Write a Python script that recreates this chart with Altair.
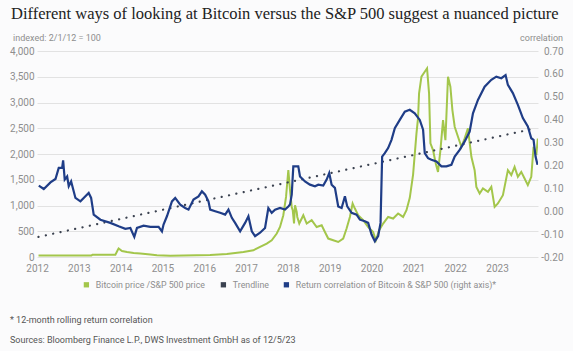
import altair as alt
import pandas as pd

TITLE = "Different ways of looking at Bitcoin versus the S&P 500 suggest a nuanced picture"
LEFT_TITLE = "indexed: 2/1/12 = 100"
RIGHT_TITLE = "correlation"
NOTE = "* 12-month rolling return correlation"
SOURCE = "Sources: Bloomberg Finance L.P., DWS Investment GmbH as of 12/5/23"

series = ["Bitcoin price /S&P 500 price", "Trendline",
          "Return correlation of Bitcoin & S&P 500 (right axis)*"]
colors = ["#a3c64b", "#3b4250", "#1f3d87"]

years = list(range(2012, 2024))
left_ticks = list(range(0, 4001, 500))
right_ticks = [-0.2, -0.1, 0.0, 0.1, 0.2, 0.3, 0.4, 0.5, 0.6, 0.7]

# Bitcoin price / S&P 500 price (indexed), decimal years
btc_t = [2012.036, 2013.301, 2013.325, 2013.874, 2013.928, 2013.952, 2014.033, 2014.153,
         2014.310, 2014.470, 2014.709, 2014.869, 2015.186, 2016.141, 2016.539, 2016.936,
         2017.174, 2017.334, 2017.494, 2017.613, 2017.733, 2017.811, 2017.890, 2017.955,
         2018.010, 2018.050, 2018.091, 2018.115, 2018.146, 2018.170, 2018.210, 2018.224,
         2018.272, 2018.368, 2018.449, 2018.568, 2018.687, 2018.807, 2018.885, 2018.964,
         2019.084, 2019.203, 2019.322, 2019.403, 2019.482, 2019.547, 2019.601, 2019.680,
         2019.800, 2019.919, 2020.038, 2020.103, 2020.181, 2020.277, 2020.396, 2020.516,
         2020.635, 2020.754, 2020.835, 2020.914, 2020.993, 2021.074, 2021.112, 2021.136,
         2021.193, 2021.272, 2021.327, 2021.375, 2021.408, 2021.470, 2021.535, 2021.589,
         2021.647, 2021.709, 2021.766, 2021.828, 2021.885, 2021.933, 2021.988, 2022.067,
         2022.148, 2022.227, 2022.305, 2022.387, 2022.465, 2022.506, 2022.585, 2022.663,
         2022.783, 2022.864, 2022.943, 2023.021, 2023.141, 2023.260, 2023.341, 2023.420,
         2023.499, 2023.580, 2023.659, 2023.737, 2023.819, 2023.874, 2023.938, 2023.976]
btc_v = [30, 30, 45, 45, 130, 165, 117, 97,
         78, 66, 47, 35, 25, 40, 60, 95,
         130, 195, 260, 325, 455, 583, 811, 1167,
         1686, 1300, 972, 908, 650, 1005, 875, 778,
         650, 811, 650, 714, 583, 617, 486, 358,
         325, 292, 358, 552, 778, 1039, 941, 811,
         714, 583, 486, 325, 519, 650, 778, 747,
         844, 778, 908, 1150, 1600, 2400, 2700, 3178,
         3501, 3598, 3664, 3178, 2206, 2075, 1817, 1653,
         2075, 2659, 2270, 3501, 3307, 2853, 2529, 2334,
         2140, 2303, 2497, 1945, 1686, 1362, 1233, 1330,
         1264, 1362, 972, 1039, 1200, 1686, 1589, 1750,
         1556, 1653, 1525, 1395, 1556, 2140, 1978, 2300]

# 12-month rolling return correlation (right axis)
corr_t = [2012.043, 2012.162, 2012.322, 2012.442, 2012.520, 2012.601, 2012.625, 2012.663,
          2012.721, 2012.759, 2012.816, 2012.919, 2013.038, 2013.117, 2013.236, 2013.294,
          2013.356, 2013.516, 2013.754, 2013.952, 2014.112, 2014.232, 2014.327, 2014.391,
          2014.549, 2014.709, 2014.907, 2014.988, 2015.026, 2015.107, 2015.227, 2015.305,
          2015.425, 2015.544, 2015.623, 2015.742, 2015.862, 2015.943, 2016.021, 2016.100,
          2016.141, 2016.260, 2016.379, 2016.499, 2016.578, 2016.659, 2016.737, 2016.857,
          2016.976, 2017.055, 2017.136, 2017.215, 2017.334, 2017.453, 2017.532, 2017.613,
          2017.692, 2017.811, 2017.931, 2018.010, 2018.050, 2018.091, 2018.129, 2018.170,
          2018.248, 2018.289, 2018.408, 2018.527, 2018.647, 2018.726, 2018.845, 2018.926,
          2018.988, 2019.045, 2019.124, 2019.203, 2019.284, 2019.363, 2019.418, 2019.523,
          2019.642, 2019.721, 2019.840, 2019.919, 2020.000, 2020.079, 2020.158, 2020.215,
          2020.253, 2020.317, 2020.396, 2020.477, 2020.556, 2020.675, 2020.795, 2020.914,
          2021.033, 2021.153, 2021.232, 2021.272, 2021.351, 2021.432, 2021.551, 2021.671,
          2021.790, 2021.909, 2021.988, 2022.107, 2022.227, 2022.346, 2022.425, 2022.544,
          2022.704, 2022.864, 2022.983, 2023.103, 2023.205, 2023.260, 2023.379, 2023.499,
          2023.618, 2023.737, 2023.819, 2023.874, 2023.921, 2023.969]
corr_v = [0.112, 0.097, 0.126, 0.141, 0.189, 0.189, 0.222, 0.138,
          0.152, 0.109, 0.130, 0.058, 0.043, 0.058, 0.080, 0.058,
          -0.015, -0.037, -0.051, -0.066, -0.077, -0.073, -0.112, -0.073,
          -0.063, -0.068, -0.068, -0.088, -0.058, -0.022, 0.043, 0.058,
          0.029, 0.014, 0.007, 0.051, 0.065, 0.087, 0.072, 0.043,
          0.007, 0.000, -0.007, -0.015, 0.007, -0.029, -0.051, -0.088,
          -0.051, -0.022, -0.088, -0.109, -0.094, -0.073, 0.014, -0.007,
          0.007, 0.014, 0.007, 0.021, 0.029, 0.072, 0.196, 0.196,
          0.196, 0.152, 0.130, 0.116, 0.109, 0.116, 0.112, 0.138,
          0.167, 0.116, 0.102, 0.021, 0.014, 0.065, 0.021, -0.007,
          -0.015, -0.037, -0.044, -0.051, -0.102, -0.131, -0.109, -0.051,
          0.239, 0.254, 0.276, 0.312, 0.363, 0.399, 0.435, 0.443,
          0.428, 0.399, 0.356, 0.254, 0.232, 0.225, 0.217, 0.196,
          0.196, 0.203, 0.239, 0.268, 0.305, 0.348, 0.428, 0.486,
          0.544, 0.574, 0.588, 0.581, 0.595, 0.552, 0.516, 0.465,
          0.407, 0.370, 0.319, 0.312, 0.239, 0.203]

trend_t = [2012.036, 2023.93]
trend_v = [390, 2500]

FONT = "Roboto"
TFONT = "Liberation Serif"
GRAY = "#8e8e8e"

btc_df = pd.DataFrame({"t": btc_t, "v": btc_v})
corr_df = pd.DataFrame({"t": corr_t, "c": corr_v})
trend_df = pd.DataFrame({"t": trend_t, "v": trend_v})

x_enc = alt.X("t:Q", scale=alt.Scale(domain=[2012, 2023.98], nice=False, zero=False),
              axis=alt.Axis(values=years, format="d", title=None, grid=False, ticks=False,
                            domain=False, labelPadding=6, labelFontSize=10, labelColor=GRAY,
                            labelFont=FONT, labelFlush=False))

left_scale = alt.Scale(domain=[0, 4000], nice=False, zero=False)
left_axis = alt.Axis(values=left_ticks, format=",d", title=None, ticks=False, domain=False,
                     gridColor="#e2e2e2", gridWidth=1, labelPadding=3, labelFontSize=10,
                     labelColor=GRAY, labelFont=FONT)

green = alt.Chart(btc_df).mark_line(color=colors[0], strokeWidth=2, clip=True).encode(
    x=x_enc,
    y=alt.Y("v:Q", scale=left_scale, axis=left_axis),
)

trend = alt.Chart(trend_df).mark_line(color=colors[1], strokeWidth=2.2, strokeDash=[0.1, 7.4],
                                       strokeCap="round").encode(
    x=alt.X("t:Q"),
    y=alt.Y("v:Q", scale=left_scale, axis=left_axis),
)

blue = alt.Chart(corr_df).mark_line(color=colors[2], strokeWidth=2.2, clip=True).encode(
    x=alt.X("t:Q"),
    y=alt.Y("c:Q", scale=alt.Scale(domain=[-0.2, 0.7], nice=False, zero=False),
            axis=alt.Axis(orient="right", values=right_ticks, title=None, grid=False, ticks=False,
                          domain=False, labelAlign="right", labelPadding=25, labelFontSize=10,
                          labelColor=GRAY, labelFont=FONT,
                          labelExpr="replace(format(datum.value, '.2f'), '\u2212', '-')")),
)

legend_layer = alt.Chart(pd.DataFrame({"series": series})).mark_square(size=28, opacity=1).encode(
    x=alt.value(-900), y=alt.value(-900),
    color=alt.Color("series:N", scale=alt.Scale(domain=series, range=colors), sort=series,
                    legend=alt.Legend(orient="none", legendX=45, legendY=229, direction="horizontal",
                                      title=None, symbolType="square", symbolSize=28,
                                      symbolStrokeWidth=0, labelFontSize=8.8, labelColor=GRAY,
                                      labelFont=FONT, columnPadding=13, labelOffset=5, padding=0,
                                      labelLimit=400)),
)

one = pd.DataFrame({"k": [0]})


def txt(s, x, y, size, color, font=FONT, align="left", weight="normal"):
    return alt.Chart(one).mark_text(text=s, align=align, baseline="alphabetic", font=font,
                                    fontSize=size, color=color, fontWeight=weight).encode(
        x=alt.value(x), y=alt.value(y))


texts = [
    txt(TITLE, -26, -32, 16.5, "#222222", font=TFONT),
    txt(LEFT_TITLE, -24, -10, 9, GRAY),
    txt(RIGHT_TITLE, 526, -10, 9, GRAY, align="right"),
    txt(NOTE, -27, 272, 9, "#555555"),
    txt(SOURCE, -27, 292, 9, "#555555"),
]

chart = alt.layer(
    alt.layer(green, trend),
    blue,
    legend_layer,
    *texts,
).resolve_scale(y="independent").properties(
    width=501, height=206,
    autosize=alt.AutoSizeParams(type="none"),
    padding={"left": 37, "top": 51, "right": 35, "bottom": 94},
    background="#fbfbfc",
).configure_view(stroke=None)

chart.save("out.html", embed_options={"renderer": "svg", "actions": False})
